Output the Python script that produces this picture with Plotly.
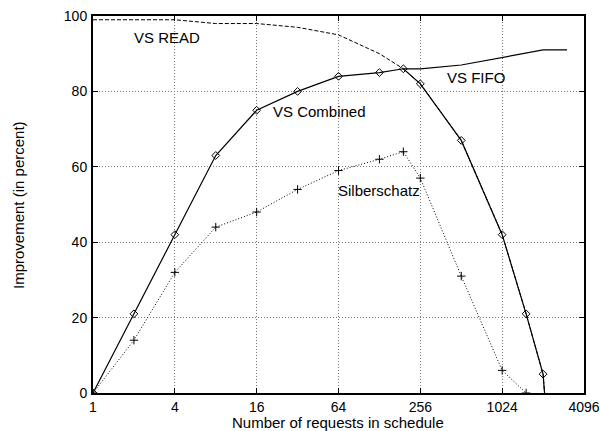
import math
import plotly.graph_objects as go

# Data
fifo_x = [192, 256, 512, 1024, 2048, 3072]
fifo_y = [86, 86, 87, 89, 91, 91]

read_x = [1, 4, 8, 16, 32, 64, 128, 192, 256, 512, 1024, 1536, 2048, 2100]
read_y = [99, 99, 98, 98, 97, 95, 90, 86, 82, 67, 42, 21, 5, 0]

comb_x = [1, 2, 4, 8, 16, 32, 64, 128, 192, 256, 512, 1024, 1536, 2048]
comb_y = [0, 21, 42, 63, 75, 80, 84, 85, 86, 82, 67, 42, 21, 5]
comb_tail_x = [2048, 2100]
comb_tail_y = [5, 0]

silb_x = [1, 2, 4, 8, 16, 32, 64, 128, 192, 256, 512, 1024, 1536]
silb_y = [0, 14, 32, 44, 48, 54, 59, 62, 64, 57, 31, 6, 0]

x_ticks = [1, 4, 16, 64, 256, 1024, 4096]
y_ticks = [0, 20, 40, 60, 80, 100]

FONT = "Liberation Sans, Arial, sans-serif"

L, R, T, B = 93, 16, 16, 38
PW = 600 - L - R
PH = 431 - T - B


def px_to_paper(xp, yp):
    return (xp - L) / PW, (431 - B - yp) / PH


fig = go.Figure()
fig.add_trace(go.Scatter(x=read_x, y=read_y, mode="lines",
                         line=dict(color="black", width=1, dash="4px,2px"), name="VS READ"))
fig.add_trace(go.Scatter(x=fifo_x, y=fifo_y, mode="lines",
                         line=dict(color="black", width=1.2), name="VS FIFO"))
fig.add_trace(go.Scatter(x=comb_tail_x, y=comb_tail_y, mode="lines",
                         line=dict(color="black", width=1.2), showlegend=False))
fig.add_trace(go.Scatter(x=comb_x, y=comb_y, mode="lines+markers",
                         line=dict(color="black", width=1.2),
                         marker=dict(symbol="diamond-open", size=6, color="black",
                                     line=dict(width=1, color="black")),
                         name="VS Combined"))
fig.add_trace(go.Scatter(x=silb_x, y=silb_y, mode="lines+markers",
                         line=dict(color="black", width=1, dash="1px,2px"),
                         marker=dict(symbol="cross-thin", size=6, color="black",
                                     line=dict(width=1, color="black")),
                         name="Silberschatz"))

labels = [
    ("VS READ", 167, 37),
    ("VS FIFO", 476, 77),
    ("VS Combined", 319, 111),
    ("Silberschatz", 379, 190),
]
for txt, xp, yp in labels:
    px, py = px_to_paper(xp, yp)
    fig.add_annotation(text=txt, x=px, y=py, xref="paper", yref="paper",
                       xanchor="center", yanchor="middle",
                       showarrow=False, font=dict(family=FONT, size=15, color="black"))

tx, ty = px_to_paper(18, 205)
fig.add_annotation(text="Improvement (in percent)", x=tx, y=ty, xref="paper",
                   yref="paper", showarrow=False, textangle=-90,
                   xanchor="center", yanchor="middle",
                   font=dict(family=FONT, size=15, color="black"))
tx, ty = px_to_paper(338, 422)
fig.add_annotation(text="Number of requests in schedule", x=tx, y=ty, xref="paper",
                   yref="paper", showarrow=False,
                   xanchor="center", yanchor="middle",
                   font=dict(family=FONT, size=15, color="black"))

fig.update_layout(
    width=600, height=431,
    margin=dict(l=L, r=R, t=T, b=B),
    paper_bgcolor="white", plot_bgcolor="white",
    showlegend=False,
    font=dict(family=FONT, size=14, color="black"),
)
fig.update_xaxes(
    type="log", range=[0, math.log10(4096)], automargin=False,
    tickvals=x_ticks, ticktext=[str(v) for v in x_ticks],
    showgrid=True, gridcolor="#777", griddash="1px,2px", gridwidth=1,
    showline=True, linecolor="black", linewidth=2, mirror="ticks",
    ticks="inside", ticklen=5, tickcolor="black", ticklabelstandoff=0,
    zeroline=False,
)
fig.update_yaxes(
    range=[0, 100], tickvals=y_ticks, automargin=False,
    showgrid=True, gridcolor="#777", griddash="1px,2px", gridwidth=1,
    showline=True, linecolor="black", linewidth=2, mirror="ticks",
    ticks="inside", ticklen=5, tickcolor="black", ticklabelstandoff=1,
    zeroline=False,
)

fig.write_html("out.html", config={"displayModeBar": False},
               post_script="document.body.style.margin='0';document.body.style.overflow='hidden';")
